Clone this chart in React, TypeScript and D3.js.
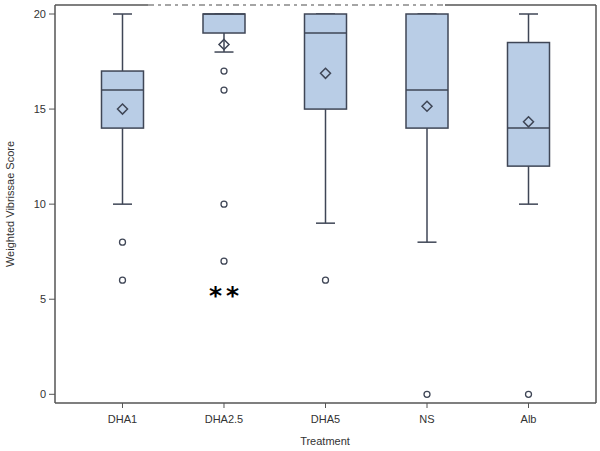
import React from "react";
import * as d3 from "d3";

const categories = ["DHA1", "DHA2.5", "DHA5", "NS", "Alb"];
const whiskerHigh = [20, 20, 20, 20, 20];
const q3 = [17, 20, 20, 20, 18.5];
const median = [16, 20, 19, 16, 14];
const q1 = [14, 19, 15, 14, 12];
const whiskerLow = [10, 18, 9, 8, 10];
const means = [15, 18.4, 16.88, 15.15, 14.33];
const outliers = [[8, 6], [17, 16, 10, 7], [6], [0], [0]];
const yTicks = [0, 5, 10, 15, 20];

const W = 600, H = 451;
const left = 55, right = 596, top = 5, bottom = 403;

export default function App() {
  const x = d3.scalePoint<string>().domain(categories).range([left, right]).padding(0.665);
  const y = d3.scaleLinear().domain([0, 20]).range([394.3, 14]);
  const stroke = "#3f4656";
  const fill = "#b9cde6";
  const boxW = 42, capW = 19;
  const font = "Arial, 'Liberation Sans', sans-serif";
  return (
    <svg width={W} height={H} style={{ position: "absolute", left: 0, top: 0, background: "#fff" }}>
      <rect x={0} y={0} width={W} height={H} fill="#fff" />
      {/* frame */}
      <line x1={left} y1={bottom} x2={right} y2={bottom} stroke="#555" strokeWidth={1.5} />
      <line x1={left} y1={top} x2={left} y2={bottom} stroke="#555" strokeWidth={1.5} />
      <line x1={right} y1={top} x2={right} y2={bottom} stroke="#555" strokeWidth={1.5} />
      <line x1={left} y1={top} x2={148} y2={top} stroke="#555" strokeWidth={1.5} />
      <line x1={148} y1={top} x2={445} y2={top} stroke="#888" strokeWidth={1.5} strokeDasharray="6 4 3 4" />
      <line x1={445} y1={top} x2={right} y2={top} stroke="#555" strokeWidth={1.5} />
      {/* y axis */}
      {yTicks.map((t) => (
        <g key={t}>
          <line x1={left - 6} x2={left} y1={y(t)} y2={y(t)} stroke="#555" strokeWidth={1} />
          <text x={left - 9} y={y(t)} dy="0.35em" textAnchor="end" fontFamily={font} fontSize={11} fill="#333">{t}</text>
        </g>
      ))}
      <text transform={`translate(14, ${(top + bottom) / 2}) rotate(-90)`} textAnchor="middle" fontFamily={font} fontSize={11} fill="#333">Weighted Vibrissae Score</text>
      {/* x axis */}
      {categories.map((c) => (
        <g key={c}>
          <line x1={x(c)} x2={x(c)} y1={bottom} y2={bottom + 5} stroke="#555" strokeWidth={1} />
          <text x={x(c)} y={419} dy="0.35em" textAnchor="middle" fontFamily={font} fontSize={11} fill="#333">{c}</text>
        </g>
      ))}
      <text x={325} y={441} dy="0.35em" textAnchor="middle" fontFamily={font} fontSize={11} fill="#333">Treatment</text>
      {/* boxes */}
      {categories.map((c, i) => {
        const cx = x(c) as number;
        return (
          <g key={c}>
            <line x1={cx} x2={cx} y1={y(whiskerHigh[i])} y2={y(q3[i])} stroke={stroke} strokeWidth={1.5} />
            <line x1={cx} x2={cx} y1={y(q1[i])} y2={y(whiskerLow[i])} stroke={stroke} strokeWidth={1.5} />
            <line x1={cx - capW / 2} x2={cx + capW / 2} y1={y(whiskerHigh[i])} y2={y(whiskerHigh[i])} stroke={stroke} strokeWidth={1.5} />
            <line x1={cx - capW / 2} x2={cx + capW / 2} y1={y(whiskerLow[i])} y2={y(whiskerLow[i])} stroke={stroke} strokeWidth={1.5} />
            <rect x={cx - boxW / 2} y={y(q3[i])} width={boxW} height={y(q1[i]) - y(q3[i])} fill={fill} stroke={stroke} strokeWidth={1.5} />
            <line x1={cx - boxW / 2} x2={cx + boxW / 2} y1={y(median[i])} y2={y(median[i])} stroke={stroke} strokeWidth={1.5} />
            <path d={`M${cx},${y(means[i]) - 5} L${cx + 5},${y(means[i])} L${cx},${y(means[i]) + 5} L${cx - 5},${y(means[i])} Z`} fill="none" stroke={stroke} strokeWidth={1.5} />
            {outliers[i].map((o, j) => (
              <circle key={j} cx={cx} cy={y(o)} r={3} fill="#fff" stroke={stroke} strokeWidth={1.3} />
            ))}
          </g>
        );
      })}
      <text x={(x("DHA2.5") as number) + 2} y={304} textAnchor="middle" fontFamily="'DejaVu Sans', sans-serif" fontWeight="bold" fontSize={25} letterSpacing={4} fill="#000">**</text>
    </svg>
  );
}
